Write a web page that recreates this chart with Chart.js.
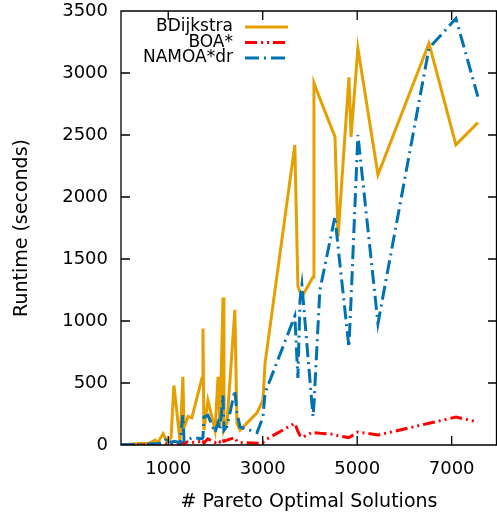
<!DOCTYPE html>
<html>
<head>
<meta charset="utf-8">
<script src="https://cdn.jsdelivr.net/npm/chart.js@4.4.1/dist/chart.umd.min.js"></script>
<style>
  body { margin: 0; background: #fff; }
  canvas { display: block; }
</style>
</head>
<body>
<canvas id="runtimeChart" width="497" height="517"></canvas>
<script>
// # Pareto optimal solutions per instance (shared by all three algorithms)
const solutions = [0, 300, 610, 720, 780, 890, 975, 1060, 1120, 1250, 1310, 1335, 1420, 1500,
  1715, 1735, 1755, 1840, 1990, 2055, 2095, 2160, 2180, 2245, 2410, 2455, 2520, 2880, 3005,
  3050, 3680, 3745, 3790, 3830, 4065, 4085, 4210, 4530, 4595, 4825, 4870, 5015, 5440, 6520,
  7090, 7555];

// runtimes in seconds
const bdijkstra = [0, 10, 15, 40, 20, 90, 30, 60, 480, 30, 550, 140, 230, 220,
  540, 940, 120, 360, 120, 550, 150, 1190, 120, 180, 1090, 175, 120, 260, 360,
  660, 2420, 1280, 1235, 1195, 1355, 2920, 2795, 2485, 1680, 2965, 2485, 3200, 2180, 3240,
  2420, 2600];
const boa = [0, 3, 5, 8, 5, 10, 8, 10, 15, 10, 20, 15, 25, 20,
  30, 40, 15, 50, 20, 40, 25, 50, 30, 40, 60, 30, 20, 15, 20,
  40, 175, 110, 75, 60, 105, 100, 95, 85, 75, 60, 70, 105, 80, 175,
  225, 185];
const namoa = [0, 5, 8, 10, 10, 20, 55, 20, 30, 20, 240, 30, 40, 60,
  50, 60, 225, 240, 100, 180, 120, 400, 120, 150, 440, 260, 145, 100, 225,
  420, 1040, 540, 1170, 1290, 230, 330, 1250, 1840, 1600, 790, 1170, 2500, 980, 3200,
  3440, 2810];

const xTickValues = [1000, 3000, 5000, 7000];
const yTickValues = [0, 500, 1000, 1500, 2000, 2500, 3000, 3500];

const FONT = "'DejaVu Sans', 'Liberation Sans', sans-serif";

function toPoints(values) {
  return solutions.map((x, i) => ({ x: x, y: values[i] }));
}

// gnuplot-style box with inward ticks on all four sides
const framePlugin = {
  id: "frame",
  afterDatasetsDraw(chart) {
    const { ctx, chartArea: a, scales } = chart;
    const len = 9;
    ctx.save();
    ctx.strokeStyle = "#000";
    ctx.lineWidth = 1.3;
    ctx.beginPath();
    ctx.rect(a.left, a.top, a.right - a.left - 0.5, a.bottom - a.top);
    scales.x.ticks.forEach((t) => {
      const px = scales.x.getPixelForValue(t.value);
      ctx.moveTo(px, a.bottom);
      ctx.lineTo(px, a.bottom - len);
      ctx.moveTo(px, a.top);
      ctx.lineTo(px, a.top + len);
    });
    scales.y.ticks.forEach((t) => {
      const py = scales.y.getPixelForValue(t.value);
      ctx.moveTo(a.left, py);
      ctx.lineTo(a.left + len, py);
      ctx.moveTo(a.right, py);
      ctx.lineTo(a.right - len, py);
    });
    ctx.stroke();
    ctx.restore();
  },
};

// key in the top-left corner: label right-aligned, line sample to its right
const keyPlugin = {
  id: "key",
  afterDraw(chart) {
    const { ctx } = chart;
    ctx.save();
    ctx.font = "17px " + FONT;
    ctx.textAlign = "right";
    ctx.textBaseline = "middle";
    chart.data.datasets.forEach((ds, i) => {
      const y = 27 + i * 15.5;
      ctx.fillStyle = "#000";
      ctx.fillText(ds.label, 233, y);
      ctx.strokeStyle = ds.borderColor;
      ctx.lineWidth = ds.borderWidth;
      ctx.setLineDash(ds.borderDash || []);
      ctx.beginPath();
      ctx.moveTo(245, y);
      ctx.lineTo(288, y);
      ctx.stroke();
    });
    ctx.restore();
  },
};

const ctx = document.getElementById("runtimeChart").getContext("2d");
new Chart(ctx, {
  type: "line",
  data: {
    datasets: [
      {
        label: "BDijkstra",
        data: toPoints(bdijkstra),
        borderColor: "#e69f00",
        borderWidth: 3,
        order: 3,
      },
      {
        label: "BOA*",
        data: toPoints(boa),
        borderColor: "#ff0000",
        borderWidth: 3,
        borderDash: [12, 4, 2, 4, 2, 4],
        order: 2,
      },
      {
        label: "NAMOA*dr",
        data: toPoints(namoa),
        borderColor: "#0072b2",
        borderWidth: 3,
        borderDash: [14, 5, 2, 5],
        order: 1,
      },
    ],
  },
  options: {
    responsive: false,
    animation: false,
    layout: { padding: 0 },
    elements: {
      point: { radius: 0 },
      line: { tension: 0, borderJoinStyle: "miter" },
    },
    scales: {
      x: {
        type: "linear",
        min: 0,
        max: 7960,
        afterBuildTicks: (s) => {
          s.ticks = xTickValues.map((v) => ({ value: v }));
        },
        afterFit: (s) => {
          s.height = 72;
          s.paddingLeft = 0;
          s.paddingRight = 0;
        },
        grid: { display: false, drawTicks: false },
        border: { display: false },
        ticks: {
          padding: 14,
          color: "#000",
          maxRotation: 0,
          font: { family: FONT, size: 18 },
          callback: (v) => String(v),
        },
        title: {
          display: true,
          text: "# Pareto Optimal Solutions",
          color: "#000",
          font: { family: FONT, size: 19 },
          padding: { top: 0, bottom: 4 },
        },
      },
      y: {
        min: 0,
        max: 3500,
        afterBuildTicks: (s) => {
          s.ticks = yTickValues.map((v) => ({ value: v }));
        },
        afterFit: (s) => {
          s.width = 121;
          s.paddingTop = 11;
          s.paddingBottom = 0;
        },
        grid: { display: false, drawTicks: false },
        border: { display: false },
        ticks: {
          padding: 13,
          color: "#000",
          font: { family: FONT, size: 18 },
          callback: (v) => String(v),
        },
        title: {
          display: true,
          text: "Runtime (seconds)",
          color: "#000",
          font: { family: FONT, size: 19 },
          padding: { top: 11, bottom: 0 },
        },
      },
    },
    plugins: {
      legend: { display: false },
      tooltip: { enabled: false },
    },
  },
  plugins: [framePlugin, keyPlugin],
});
</script>
</body>
</html>
